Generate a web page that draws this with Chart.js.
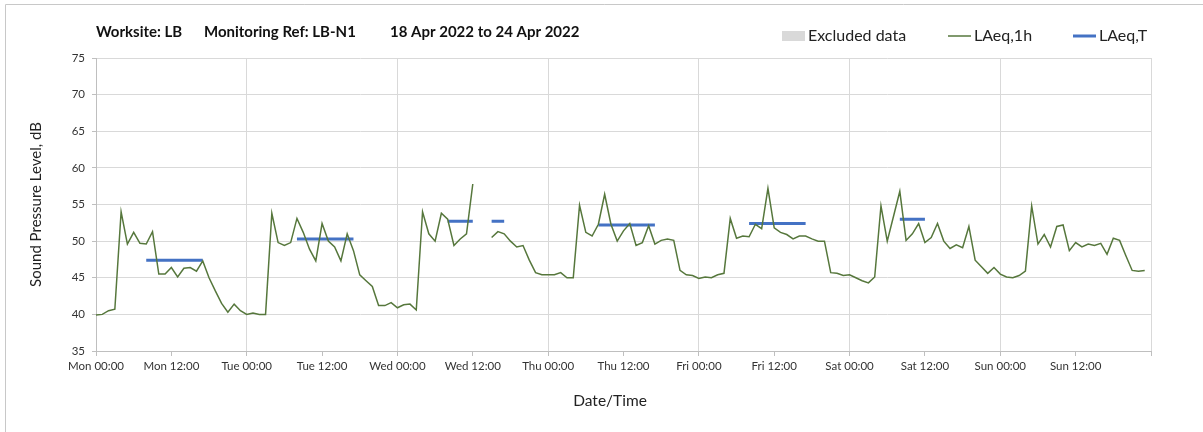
<!DOCTYPE html>
<html>
<head>
<meta charset="utf-8">
<script src="https://cdn.jsdelivr.net/npm/chart.js@4.4.1/dist/chart.umd.min.js"></script>
<style>
html,body{margin:0;padding:0;background:#ffffff;}
#wrap{position:relative;width:1203px;height:432px;overflow:hidden;}
canvas{display:block;}
</style>
</head>
<body>
<div id="wrap"><canvas id="c" width="1203" height="432"></canvas></div>
<script>
// ---- data ----
const titleParts = ['Worksite: LB', 'Monitoring Ref: LB-N1', '18 Apr 2022 to 24 Apr 2022'];
const xTitle = 'Date/Time';
const yTitle = 'Sound Pressure Level, dB';
const tickLabels = ['Mon 00:00','Mon 12:00','Tue 00:00','Tue 12:00','Wed 00:00','Wed 12:00','Thu 00:00','Thu 12:00','Fri 00:00','Fri 12:00','Sat 00:00','Sat 12:00','Sun 00:00','Sun 12:00',''];
const yTicks = [35, 40, 45, 50, 55, 60, 65, 70, 75];

// hourly LAeq,1h values, hour 0 = Mon 00:00 (null = excluded)
const laeq1h = [
  39.9, 40.0, 40.5, 40.7, 54.0, 49.6, 51.2, 49.7, 49.6, 51.3,
  45.5, 45.5, 46.4, 45.1, 46.3, 46.4, 45.9, 47.3, 45.0, 43.2,
  41.5, 40.3, 41.4, 40.5, 40.0, 40.2, 40.0, 40.0, 53.8, 49.8,
  49.4, 49.8, 53.1, 51.2, 48.9, 47.3, 52.4, 50.0, 49.2, 47.3,
  51.0, 48.7, 45.4, 44.6, 43.8, 41.2, 41.2, 41.6, 40.9, 41.3,
  41.4, 40.6, 54.0, 51.0, 50.0, 53.8, 53.0, 49.4, 50.3, 51.0,
  57.8, null, null, 50.5, 51.3, 51.0, 50.0, 49.2, 49.4, 47.4,
  45.7, 45.4, 45.4, 45.4, 45.7, 45.0, 45.0, 54.9, 51.2, 50.7,
  52.3, 56.4, 52.3, 50.0, 51.4, 52.4, 49.4, 49.8, 52.1, 49.6,
  50.1, 50.3, 50.1, 46.0, 45.4, 45.3, 44.9, 45.1, 45.0, 45.4,
  45.6, 53.1, 50.4, 50.7, 50.6, 52.3, 51.7, 57.2, 51.8, 51.2,
  50.9, 50.3, 50.7, 50.7, 50.3, 50.0, 50.0, 45.7, 45.6, 45.3,
  45.4, 45.0, 44.6, 44.3, 45.1, 54.8, 50.0, 53.4, 56.8, 50.1,
  51.0, 52.4, 49.8, 50.5, 52.4, 50.0, 49.0, 49.5, 49.1, 52.0,
  47.4, 46.5, 45.6, 46.4, 45.5, 45.1, 45.0, 45.3, 45.9, 54.8,
  49.6, 50.9, 49.2, 52.0, 52.2, 48.7, 49.8, 49.2, 49.6, 49.4,
  49.7, 48.2, 50.4, 50.1, 48.0, 46.0, 45.9, 46.0
];

// LAeq,T assessment periods (hour index start/end) and levels
const periodStart = [8, 32, 56, 63, 80, 104, 128];
const periodEnd   = [17, 41, 60, 65, 89, 113, 132];
const periodLevel = [47.4, 50.3, 52.7, 52.7, 52.2, 52.4, 53.0];

// ---- build datasets ----
const greenPts = laeq1h.map((v, i) => ({x: i, y: v}));
const bluePts = [];
periodStart.forEach((s, k) => {
  for (let h = s; h <= periodEnd[k]; h++) bluePts.push({x: h, y: periodLevel[k]});
  bluePts.push({x: periodEnd[k] + 0.5, y: null});
});

const GREEN = '#56773c';
const BLUE = '#4472c4';
const GREY = '#d9d9d9';
const FONT = 'Lato, "Open Sans", sans-serif';

const framePlugin = {
  id: 'frameHeader',
  afterDraw(chart) {
    const ctx = chart.ctx;
    ctx.save();
    // outer frame
    ctx.strokeStyle = '#c8c8c8';
    ctx.lineWidth = 1;
    ctx.beginPath();
    ctx.moveTo(5.5, 432); ctx.lineTo(5.5, 4.5); ctx.lineTo(1203, 4.5);
    ctx.stroke();
    // title
    ctx.fillStyle = '#111111';
    ctx.textBaseline = 'middle';
    ctx.textAlign = 'left';
    ctx.font = 'bold 15px ' + FONT;
    const titleX = [96, 204, 390];
    titleParts.forEach((t, i) => ctx.fillText(t, titleX[i], 32));
    // legend
    ctx.font = '16px ' + FONT;
    const legX = [782, 948, 1073];
    const ly = 36;
    chart.data.datasets.forEach((ds, i) => {
      const x = legX[i];
      if (ds.type === 'bar') {
        ctx.fillStyle = ds.backgroundColor;
        ctx.fillRect(x, ly - 5, 23, 10);
      } else {
        ctx.strokeStyle = ds.borderColor;
        ctx.lineWidth = ds.borderWidth;
        ctx.beginPath(); ctx.moveTo(x, ly); ctx.lineTo(x + 23, ly); ctx.stroke();
      }
      ctx.fillStyle = '#222222';
      ctx.fillText(ds.label, x + 26, ly);
    });
    // x axis title
    ctx.font = '15.5px ' + FONT;
    ctx.textAlign = 'center';
    ctx.fillStyle = '#222222';
    ctx.fillText(xTitle, 610, 401);
    ctx.restore();
  }
};

new Chart(document.getElementById('c'), {
  type: 'line',
  data: {
    datasets: [
      {type: 'bar', label: 'Excluded data', data: [], backgroundColor: GREY},
      {label: 'LAeq,1h', data: greenPts, borderColor: GREEN, backgroundColor: GREEN,
       borderWidth: 1.5, pointRadius: 0, tension: 0, spanGaps: false},
      {label: 'LAeq,T', data: bluePts, borderColor: BLUE, backgroundColor: BLUE,
       borderWidth: 3, pointRadius: 0, tension: 0, spanGaps: false}
    ]
  },
  options: {
    responsive: false,
    animation: false,
    devicePixelRatio: 1,
    layout: {padding: {left: 0, right: 52, top: 58, bottom: 0}},
    plugins: {legend: {display: false}, title: {display: false}, tooltip: {enabled: false}},
    scales: {
      x: {
        type: 'linear', min: 0, max: 168, offset: false,
        afterFit: s => { s.height = 81; },
        afterBuildTicks: s => { s.ticks = tickLabels.map((_, i) => ({value: i * 12})); },
        ticks: {
          autoSkip: false, maxRotation: 0, padding: 3,
          color: '#333333', font: {family: FONT, size: 11.5},
          callback: v => tickLabels[Math.round(v / 12)]
        },
        grid: {
          offset: false,
          color: c => (c.tick && c.tick.value % 24 === 0) ? '#d9d9d9' : 'rgba(0,0,0,0)',
          tickColor: '#bfbfbf', tickLength: 5, lineWidth: 1
        },
        border: {color: '#bfbfbf'},
        title: {display: false}
      },
      y: {
        min: 35, max: 75,
        afterFit: s => { s.width = 96; },
        afterBuildTicks: s => { s.ticks = yTicks.map(v => ({value: v})); },
        ticks: {padding: 7, color: '#333333', font: {family: FONT, size: 11.5}},
        grid: {color: '#d9d9d9', tickColor: '#bfbfbf', tickLength: 4},
        border: {color: '#bfbfbf'},
        title: {display: true, text: yTitle, color: '#222222',
                font: {family: FONT, size: 15}, padding: {top: 27.5, bottom: 0}}
      }
    }
  },
  plugins: [framePlugin]
});
</script>
</body>
</html>
